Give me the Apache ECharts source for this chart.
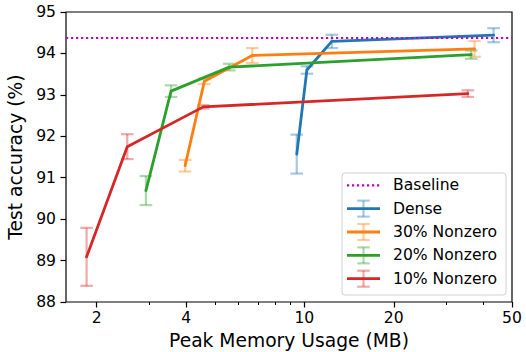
<!DOCTYPE html>
<html>
<head>
<meta charset="utf-8">
<script src="https://cdn.jsdelivr.net/npm/echarts@6/dist/echarts.min.js"></script>
<style>
html,body{margin:0;padding:0;background:#fff;}
#chart{width:526px;height:352px;}
</style>
</head>
<body>
<div id="chart"></div>
<script>
// ---- data ----
const seriesNames = ['Dense', '30% Nonzero', '20% Nonzero', '10% Nonzero'];
const denseMem = [9.43, 10.2, 12.37, 43.35];
const denseAcc = [91.57, 93.60, 94.29, 94.44];
const denseErr = [0.47, 0.09, 0.16, 0.17];
const nz30Mem = [3.97, 4.61, 6.68, 37.4];
const nz30Acc = [91.29, 93.33, 93.95, 94.11];
const nz30Err = [0.14, 0.07, 0.18, 0.19];
const nz20Mem = [2.93, 3.56, 5.59, 36.45];
const nz20Acc = [90.69, 93.09, 93.67, 93.97];
const nz20Err = [0.35, 0.14, 0.08, 0.10];
const nz10Mem = [1.85, 2.535, 4.57, 35.5];
const nz10Acc = [89.09, 91.75, 92.71, 93.03];
const nz10Err = [0.70, 0.30, 0.04, 0.08];
const baselineAcc = 94.38;
const xMajorTicks = [2, 4, 10, 20, 50];
const xMinorTicks = [3, 5, 6, 7, 8, 9, 30, 40];
const yTicks = [88, 89, 90, 91, 92, 93, 94, 95];
const xMin = 1.577, xMax = 50;

// ---- styling ----
const colors = ['#1f77b4', '#ff7f0e', '#2ca02c', '#d62728'];
const baseColor = '#bf00bf';
const FONT = 'DejaVu Sans';
const tickFont = 15.6, labelFont = 18.7;

const groups = [
  [denseMem, denseAcc, denseErr],
  [nz30Mem, nz30Acc, nz30Err],
  [nz20Mem, nz20Acc, nz20Err],
  [nz10Mem, nz10Acc, nz10Err]
];

function hexA(hex, a) {
  const n = parseInt(hex.slice(1), 16);
  return 'rgba(' + ((n >> 16) & 255) + ',' + ((n >> 8) & 255) + ',' + (n & 255) + ',' + a + ')';
}

const series = [];
groups.forEach((g, i) => {
  const [mem, acc, err] = g;
  series.push({
    name: seriesNames[i] + ' err',
    type: 'custom',
    xAxisIndex: 0, yAxisIndex: 0,
    z: 2 + i * 0.01,
    silent: true,
    data: mem.map((m, k) => [m, acc[k] - err[k], acc[k] + err[k]]),
    encode: { x: 0, y: [1, 2] },
    renderItem: function (params, api) {
      const x = api.value(0);
      const lo = api.coord([x, api.value(1)]);
      const hi = api.coord([x, api.value(2)]);
      const cw = 6.3;
      const st = { stroke: hexA(colors[i], 0.4), lineWidth: 2.2 };
      return {
        type: 'group',
        children: [
          { type: 'line', shape: { x1: lo[0], y1: lo[1], x2: hi[0], y2: hi[1] }, style: st },
          { type: 'line', shape: { x1: lo[0] - cw, y1: lo[1], x2: lo[0] + cw, y2: lo[1] }, style: st },
          { type: 'line', shape: { x1: hi[0] - cw, y1: hi[1], x2: hi[0] + cw, y2: hi[1] }, style: st }
        ]
      };
    }
  });
});
groups.forEach((g, i) => {
  const [mem, acc] = g;
  series.push({
    name: seriesNames[i],
    type: 'line',
    xAxisIndex: 0, yAxisIndex: 0,
    z: 3,
    symbol: 'none',
    silent: true,
    lineStyle: { color: colors[i], width: 2.8, cap: 'round', join: 'round' },
    data: mem.map((m, k) => [m, acc[k]]),
    markLine: i === 0 ? {
      silent: true,
      symbol: ['none', 'none'],
      label: { show: false },
      lineStyle: { color: baseColor, width: 2.2, type: [2.2, 2.8] },
      data: [{ yAxis: baselineAcc }]
    } : undefined
  });
});

// legend built with graphic elements
const legendX = 342, legendY = 173, legendW = 164, legendH = 122;
const row0 = 185.3, rowStep = 23.35;
const icoL = 347, icoR = 380, icoC = 363.5, txtX = 393;
const legendChildren = [{
  type: 'rect',
  shape: { x: legendX, y: legendY, width: legendW, height: legendH, r: 3 },
  style: { fill: 'rgba(255,255,255,0.8)', stroke: '#d0d0d0', lineWidth: 1 }
}];
const legendLabels = ['Baseline'].concat(seriesNames);
legendLabels.forEach((lab, r) => {
  const y = row0 + r * rowStep;
  if (r === 0) {
    legendChildren.push({ type: 'line', shape: { x1: icoL, y1: y, x2: icoR, y2: y },
      style: { stroke: baseColor, lineWidth: 2.2, lineDash: [2.2, 2.8] } });
  } else {
    const c = colors[r - 1];
    const st = { stroke: hexA(c, 0.4), lineWidth: 2.2 };
    legendChildren.push({ type: 'line', shape: { x1: icoC, y1: y - 8, x2: icoC, y2: y + 8 }, style: st });
    legendChildren.push({ type: 'line', shape: { x1: icoC - 6.3, y1: y - 8, x2: icoC + 6.3, y2: y - 8 }, style: st });
    legendChildren.push({ type: 'line', shape: { x1: icoC - 6.3, y1: y + 8, x2: icoC + 6.3, y2: y + 8 }, style: st });
    legendChildren.push({ type: 'line', shape: { x1: icoL, y1: y, x2: icoR, y2: y },
      style: { stroke: c, lineWidth: 2.8 } });
  }
  legendChildren.push({ type: 'text', x: txtX, y: y,
    style: { text: lab, fill: '#000', font: tickFont + 'px "' + FONT + '"', textVerticalAlign: 'middle', textAlign: 'left' } });
});

const chart = echarts.init(document.getElementById('chart'), null, { renderer: 'svg' });
const L = Math.log10;
chart.setOption({
  animation: false,
  backgroundColor: '#fff',
  textStyle: { fontFamily: FONT },
  grid: { left: 66, right: 14, top: 12, bottom: 50, outerBoundsMode: 'none', containLabel: false,
    show: true, borderColor: '#000', borderWidth: 1.2, backgroundColor: 'transparent' },
  xAxis: [
    { type: 'log', logBase: 10, min: xMin, max: xMax, show: true,
      axisLine: { show: false }, axisTick: { show: false }, axisLabel: { show: false }, splitLine: { show: false } },
    { type: 'value', min: L(xMin), max: L(xMax), position: 'bottom',
      axisLine: { show: false },
      axisTick: { show: true, length: 5.5, lineStyle: { color: '#000', width: 1.2 }, customValues: xMajorTicks.map(L) },
      axisLabel: { show: true, color: '#000', fontSize: tickFont, fontFamily: FONT, margin: 8,
        customValues: xMajorTicks.map(L), formatter: v => String(Math.round(Math.pow(10, v))) },
      splitLine: { show: false },
      name: 'Peak Memory Usage (MB)', nameLocation: 'middle', nameGap: 29,
      nameTextStyle: { fontSize: labelFont, color: '#000', fontFamily: FONT } },
    { type: 'value', min: L(xMin), max: L(xMax), position: 'bottom',
      axisLine: { show: false },
      axisTick: { show: true, length: 3, lineStyle: { color: '#000', width: 1 }, customValues: xMinorTicks.map(L) },
      axisLabel: { show: false }, splitLine: { show: false } }
  ],
  yAxis: [{
    type: 'value', min: yTicks[0], max: yTicks[yTicks.length - 1], interval: 1,
    axisLine: { show: false },
    axisTick: { show: true, length: 5.5, lineStyle: { color: '#000', width: 1.2 } },
    axisLabel: { color: '#000', fontSize: tickFont, fontFamily: FONT, margin: 10 },
    splitLine: { show: false },
    name: 'Test accuracy (%)', nameLocation: 'middle', nameGap: 34,
    nameTextStyle: { fontSize: labelFont, color: '#000', fontFamily: FONT }
  }],
  series: series,
  graphic: [{ type: 'group', z: 100, children: legendChildren }]
});
</script>
</body>
</html>
